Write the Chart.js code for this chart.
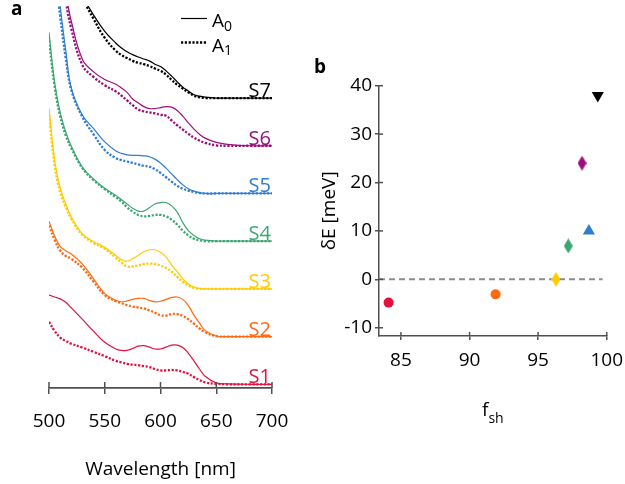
<!DOCTYPE html>
<html>
<head>
<meta charset="utf-8">
<script src="https://cdn.jsdelivr.net/npm/chart.js@4.4.1/dist/chart.umd.min.js"></script>
<style>
  html, body { margin: 0; padding: 0; background: #fff; }
  #wrap { position: relative; width: 625px; height: 484px; overflow: hidden; }
  canvas { position: absolute; top: 0; }
  #cA { left: 0; }
  #cB { left: 300px; }
</style>
</head>
<body>
<div id="wrap">
  <canvas id="cA" width="300" height="484"></canvas>
  <canvas id="cB" width="325" height="484"></canvas>
</div>
<script>
// ---- panel a: spectra (A0 solid, A1 dotted), stacked by sample ----
const wavelengths = [500, 505, 510, 515, 520, 530, 540, 550, 560, 565, 570, 575, 580, 585, 590, 595, 600, 605, 610, 615, 620, 625, 630, 635, 640, 650, 660, 680, 700];

const S1_A0 = [1.87, 1.83, 1.79, 1.72, 1.60, 1.36, 1.11, 0.88, 0.74, 0.71, 0.71, 0.75, 0.80, 0.81, 0.78, 0.74, 0.74, 0.78, 0.82, 0.82, 0.77, 0.65, 0.49, 0.32, 0.17, 0.03, 0.01, 0, 0];
const S1_A1 = [1.31, 1.12, 0.98, 0.91, 0.85, 0.77, 0.68, 0.59, 0.49, 0.46, 0.43, 0.41, 0.40, 0.38, 0.36, 0.32, 0.29, 0.29, 0.30, 0.29, 0.26, 0.22, 0.15, 0.09, 0.04, 0.01, 0, 0, 0];
const S2_A0 = [2.42, 2.11, 1.89, 1.80, 1.73, 1.52, 1.21, 0.90, 0.76, 0.73, 0.75, 0.78, 0.80, 0.80, 0.76, 0.73, 0.74, 0.78, 0.82, 0.83, 0.78, 0.65, 0.45, 0.28, 0.13, 0.01, 0, 0, 0];
const S2_A1 = [2.33, 2.03, 1.80, 1.69, 1.63, 1.44, 1.15, 0.87, 0.74, 0.70, 0.66, 0.63, 0.61, 0.59, 0.55, 0.50, 0.45, 0.44, 0.47, 0.47, 0.43, 0.36, 0.27, 0.17, 0.09, 0.01, 0, 0, 0];
const S3_A0 = [3.79, 2.70, 2.12, 1.78, 1.51, 1.15, 0.99, 0.87, 0.70, 0.61, 0.58, 0.63, 0.70, 0.78, 0.82, 0.82, 0.77, 0.67, 0.50, 0.36, 0.21, 0.10, 0.04, 0.01, 0, 0, 0, 0, 0];
const S3_A1 = [3.65, 2.60, 2.03, 1.72, 1.47, 1.13, 0.96, 0.84, 0.65, 0.55, 0.47, 0.47, 0.49, 0.52, 0.53, 0.52, 0.49, 0.44, 0.36, 0.25, 0.15, 0.07, 0.02, 0, 0, 0, 0, 0, 0];
const S4_A0 = [4.38, 3.33, 2.70, 2.29, 1.99, 1.55, 1.30, 1.11, 0.96, 0.87, 0.78, 0.69, 0.63, 0.63, 0.70, 0.78, 0.81, 0.81, 0.74, 0.61, 0.39, 0.22, 0.12, 0.05, 0.02, 0, 0, 0, 0];
const S4_A1 = [4.21, 3.25, 2.62, 2.22, 1.95, 1.53, 1.28, 1.09, 0.92, 0.83, 0.71, 0.62, 0.55, 0.52, 0.53, 0.55, 0.55, 0.52, 0.45, 0.35, 0.22, 0.12, 0.05, 0.02, 0, 0, 0, 0, 0];
const S5_A0 = [6.00, 4.90, 3.93, 3.00, 2.21, 1.64, 1.36, 1.08, 0.89, 0.84, 0.81, 0.80, 0.80, 0.79, 0.77, 0.72, 0.64, 0.53, 0.41, 0.29, 0.18, 0.10, 0.05, 0.02, 0, 0, 0, 0, 0];
const S5_A1 = [5.73, 4.68, 3.72, 2.84, 2.17, 1.60, 1.24, 0.91, 0.74, 0.70, 0.67, 0.64, 0.61, 0.58, 0.56, 0.51, 0.43, 0.34, 0.25, 0.16, 0.10, 0.06, 0.03, 0.01, 0, 0, 0, 0, 0];
const S6_A0 = [5.07, 4.44, 3.81, 3.20, 2.61, 1.81, 1.55, 1.39, 1.29, 1.21, 1.12, 0.98, 0.90, 0.82, 0.78, 0.78, 0.80, 0.82, 0.81, 0.74, 0.62, 0.48, 0.35, 0.24, 0.16, 0.07, 0.03, 0, 0];
const S6_A1 = [4.96, 4.33, 3.68, 3.03, 2.45, 1.69, 1.44, 1.27, 1.14, 1.05, 0.95, 0.85, 0.76, 0.72, 0.70, 0.68, 0.65, 0.63, 0.53, 0.43, 0.34, 0.25, 0.17, 0.11, 0.06, 0.01, 0, 0, 0];
const S7_A0 = [4.88, 4.26, 3.69, 3.21, 2.79, 2.16, 1.74, 1.40, 1.15, 1.05, 0.97, 0.91, 0.86, 0.82, 0.78, 0.71, 0.66, 0.57, 0.46, 0.34, 0.23, 0.15, 0.07, 0.04, 0.02, 0, 0, 0, 0];
const S7_A1 = [4.74, 4.13, 3.57, 3.10, 2.70, 2.10, 1.66, 1.26, 0.99, 0.90, 0.84, 0.78, 0.74, 0.71, 0.67, 0.62, 0.57, 0.49, 0.38, 0.28, 0.20, 0.12, 0.05, 0.02, 0, 0, 0, 0, 0];

const sampleNames = ['S1', 'S2', 'S3', 'S4', 'S5', 'S6', 'S7'];
const spectraA0 = [S1_A0, S2_A0, S3_A0, S4_A0, S5_A0, S6_A0, S7_A0];
const spectraA1 = [S1_A1, S2_A1, S3_A1, S4_A1, S5_A1, S6_A1, S7_A1];
const baselineOffsets = [0, 1, 2, 3, 4, 5, 6];
const wlTicks = [500, 550, 600, 650, 700];

// ---- panel b: shift vs f_sh ----
const fsh = [84.1, 91.9, 96.3, 97.2, 98.7, 98.2, 99.35];
const deltaE = [-4.8, -3.1, 0, 6.9, 10, 24, 38];
const fshTicks = [85, 90, 95, 100];
const deltaETicks = [-10, 0, 10, 20, 30, 40];

// styles
const sampleColors = ['#E2123F', '#FF6A10', '#FFCC00', '#3BA671', '#2D7DD2', '#9A0F7C', '#000000'];
const markerShapes = ['circle', 'circle', 'diamond', 'diamond', 'triangle', 'diamond', 'triangle'];
const AXIS = '#505050';
const FONT = "'Open Sans', sans-serif";

Chart.defaults.font.family = FONT;
Chart.defaults.color = '#000';
Chart.defaults.animation = false;

function drawSubText(ctx, x, y, main, sub, align, size, subSize, drop) {
  ctx.font = `${size}px ${FONT}`;
  const w1 = ctx.measureText(main).width;
  ctx.font = `${subSize}px ${FONT}`;
  const w2 = ctx.measureText(sub).width;
  let x0 = x;
  if (align === 'center') x0 = x - (w1 + w2) / 2;
  ctx.textAlign = 'left';
  ctx.textBaseline = 'alphabetic';
  ctx.font = `${size}px ${FONT}`;
  ctx.fillText(main, x0, y);
  ctx.font = `${subSize}px ${FONT}`;
  ctx.fillText(sub, x0 + w1, y + drop);
}

// keep the plot box where layout.padding puts it (no extra room for edge labels)
function fixSize(prop, px) {
  return s => {
    s[prop] = px;
    s.paddingLeft = 0; s.paddingRight = 0; s.paddingTop = 0; s.paddingBottom = 0;
  };
}

// tick marks that cross the axis line (inner half; outer half is Chart.js' own)
const crossTicks = {
  id: 'crossTicks',
  afterDraw(chart, args, opts) {
    const ctx = chart.ctx;
    ctx.save();
    ctx.strokeStyle = AXIS;
    ctx.lineWidth = 1.5;
    Object.values(chart.scales).forEach(s => {
      if (!s.options.display) return;
      s.ticks.forEach(t => {
        const p = s.getPixelForValue(t.value);
        ctx.beginPath();
        if (s.isHorizontal()) { ctx.moveTo(p, s.top); ctx.lineTo(p, s.top - opts.len); }
        else { ctx.moveTo(s.right, p); ctx.lineTo(s.right + opts.len, p); }
        ctx.stroke();
      });
    });
    ctx.restore();
  }
};

const spectraDecor = {
  id: 'spectraDecor',
  afterDraw(chart) {
    const ctx = chart.ctx;
    const y = chart.scales.y;
    const right = chart.chartArea.right;
    ctx.save();
    // sample labels on the baselines
    ctx.font = `20px ${FONT}`;
    ctx.textAlign = 'right';
    ctx.textBaseline = 'alphabetic';
    sampleNames.forEach((n, i) => {
      ctx.fillStyle = sampleColors[i];
      ctx.fillText(n, right - 1, y.getPixelForValue(baselineOffsets[i]) - 1);
    });
    // legend
    ctx.strokeStyle = '#000';
    ctx.lineWidth = 1.2;
    ctx.beginPath(); ctx.moveTo(181, 18.5); ctx.lineTo(207, 18.5); ctx.stroke();
    ctx.lineWidth = 2.3;
    ctx.setLineDash([2.2, 1.6]);
    ctx.beginPath(); ctx.moveTo(181, 42.5); ctx.lineTo(207, 42.5); ctx.stroke();
    ctx.setLineDash([]);
    ctx.fillStyle = '#000';
    drawSubText(ctx, 212, 27, 'A', '0', 'left', 19, 14, 3.5);
    drawSubText(ctx, 212, 51.5, 'A', '1', 'left', 19, 14, 3.5);
    // panel letter
    ctx.font = `bold 19px ${FONT}`;
    ctx.textAlign = 'left';
    ctx.fillText('a', 11, 15);
    ctx.restore();
  }
};

const shiftDecor = {
  id: 'shiftDecor',
  afterDraw(chart) {
    const ctx = chart.ctx;
    const x = chart.scales.x;
    ctx.save();
    ctx.fillStyle = '#000';
    drawSubText(ctx, (x.left + x.right) / 2, x.top + 80, 'f', 'sh', 'center', 19, 14, 7);
    ctx.font = `bold 19px ${FONT}`;
    ctx.textAlign = 'left';
    ctx.textBaseline = 'alphabetic';
    ctx.fillText('b', 14, 73);
    ctx.restore();
  }
};

function makeDiamond(color) {
  const c = document.createElement('canvas');
  c.width = 9; c.height = 15;
  const g = c.getContext('2d');
  g.fillStyle = color;
  g.beginPath();
  g.moveTo(4.5, 0); g.lineTo(9, 7.5); g.lineTo(4.5, 15); g.lineTo(0, 7.5);
  g.closePath();
  g.fill();
  return c;
}

// ---- chart a ----
const datasetsA = [];
sampleNames.forEach((name, i) => {
  [[spectraA0[i], false], [spectraA1[i], true]].forEach(([vals, dotted]) => {
    datasetsA.push({
      label: name + (dotted ? ' A1' : ' A0'),
      data: wavelengths.map((w, j) => ({ x: w, y: vals[j] + baselineOffsets[i] })),
      borderColor: sampleColors[i],
      borderWidth: dotted ? 2.3 : 1.2,
      borderDash: dotted ? [2.2, 1.6] : [],
      borderCapStyle: 'butt',
      pointRadius: 0,
      tension: 0.4,
      fill: false,
    });
  });
});

new Chart(document.getElementById('cA').getContext('2d'), {
  type: 'line',
  data: { datasets: datasetsA },
  options: {
    responsive: false,
    devicePixelRatio: 1,
    layout: { padding: { left: 49, right: 28, top: 6, bottom: 0 } },
    plugins: { legend: { display: false }, tooltip: { enabled: false }, crossTicks: { len: 6 } },
    scales: {
      x: {
        type: 'linear', min: 500, max: 700,
        afterBuildTicks: s => { s.ticks = wlTicks.map(v => ({ value: v })); },
        afterFit: fixSize('height', 96),
        grid: { drawOnChartArea: false, drawTicks: true, tickLength: 6, color: AXIS, lineWidth: 1.5 },
        border: { display: true, color: AXIS, width: 1.8 },
        ticks: { font: { size: 19 }, color: '#000', padding: 16, maxRotation: 0 },
        title: { display: true, text: 'Wavelength [nm]', font: { size: 19 }, color: '#000', padding: { top: 0, bottom: 3 } },
      },
      y: { type: 'linear', display: false, min: -0.078, max: 7.93 },
    },
  },
  plugins: [crossTicks, spectraDecor],
});

// ---- chart b ----
const xMinB = 83.4;
new Chart(document.getElementById('cB').getContext('2d'), {
  type: 'scatter',
  data: {
    datasets: [
      {
        type: 'line',
        data: [{ x: xMinB, y: 0 }, { x: 99.7, y: 0 }],
        borderColor: '#8c8c8c', borderWidth: 2, borderDash: [6, 4],
        pointRadius: 0, order: 2,
      },
      {
        data: fsh.map((x, i) => ({ x, y: deltaE[i] })),
        backgroundColor: sampleColors,
        borderWidth: 0,
        pointStyle: markerShapes.map((s, i) => s === 'diamond' ? makeDiamond(sampleColors[i]) : s),
        pointRadius: markerShapes.map(s => s === 'circle' ? 5 : 7),
        pointRotation: sampleNames.map((n, i) => i === 6 ? 180 : 0),
        order: 1,
      },
    ],
  },
  options: {
    responsive: false,
    devicePixelRatio: 1,
    layout: { padding: { left: 0, right: 18.3, top: 85.7, bottom: 0 } },
    plugins: { legend: { display: false }, tooltip: { enabled: false }, crossTicks: { len: 4 } },
    scales: {
      x: {
        type: 'linear', min: xMinB, max: 100,
        afterBuildTicks: s => { s.ticks = fshTicks.map(v => ({ value: v })); },
        afterFit: fixSize('height', 148),
        grid: { drawOnChartArea: false, drawTicks: true, tickLength: 4, color: AXIS, lineWidth: 1.5 },
        border: { display: true, color: AXIS, width: 1.5 },
        ticks: { font: { size: 19 }, color: '#000', padding: 9, maxRotation: 0 },
      },
      y: {
        type: 'linear', min: -11.7, max: 40,
        afterBuildTicks: s => { s.ticks = deltaETicks.map(v => ({ value: v })); },
        afterFit: fixSize('width', 79),
        grid: { drawOnChartArea: false, drawTicks: true, tickLength: 4, color: AXIS, lineWidth: 1.5 },
        border: { display: true, color: AXIS, width: 1.5 },
        ticks: { font: { size: 19 }, color: '#000', padding: 3 },
        title: { display: true, text: 'δE [meV]', font: { size: 19 }, color: '#000', padding: { top: 18, bottom: 0 } },
      },
    },
  },
  plugins: [crossTicks, shiftDecor],
});
</script>
</body>
</html>
